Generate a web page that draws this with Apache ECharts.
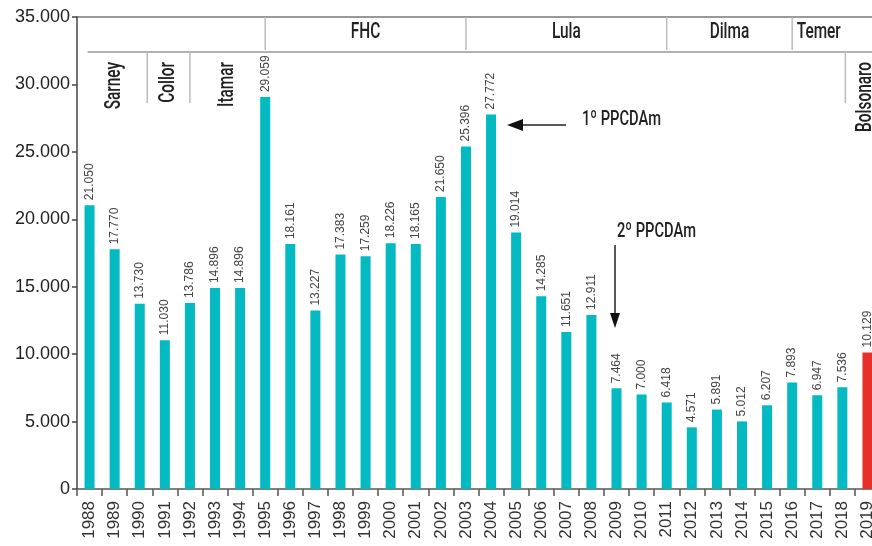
<!DOCTYPE html>
<html>
<head>
<meta charset="utf-8">
<script src="https://cdn.jsdelivr.net/npm/echarts@6/dist/echarts.min.js"></script>
<style>
  html, body { margin: 0; padding: 0; background: #fff; }
  #chart { width: 872px; height: 546px; }
</style>
</head>
<body>
<div id="chart"></div>
<script>
// desmatamento anual (km²)
const years = ['1988','1989','1990','1991','1992','1993','1994','1995','1996','1997','1998','1999','2000','2001','2002','2003',
  '2004','2005','2006','2007','2008','2009','2010','2011','2012','2013','2014','2015','2016','2017','2018','2019']
const values = [21050, 17770, 13730, 11030, 13786, 14896, 14896, 29059, 18161, 13227, 17383, 17259, 18226, 18165, 21650, 25396,
  27772, 19014, 14285, 11651, 12911, 7464, 7000, 6418, 4571, 5891, 5012, 6207, 7893, 6947, 7536, 10129]
const yTicks = [0, 5000, 10000, 15000, 20000, 25000, 30000, 35000]
const highlightYear = '2019'

// governos: faixa de cima (horizontal) e faixa de baixo (vertical)
const topGovs = ['FHC', 'Lula', 'Dilma', 'Temer']
const topStarts = ['1995', '2003', '2011', '2016']
const lowGovs = ['Sarney', 'Collor', 'Itamar', 'Bolsonaro']
const lowStarts = ['1988', '1990', '1992', '2018']

const TEAL = '#03b9c2'
const RED = '#e8302a'
const narrowFont = '500 22px Roboto, "Liberation Sans", sans-serif'
const narrow = 0.7 // fonte condensada simulada

const fmt = v => String(v).replace(/\B(?=(\d{3})+(?!\d))/g, '.')

const chart = echarts.init(document.getElementById('chart'))

chart.setOption({
  animation: false,
  backgroundColor: '#fff',
  grid: { left: 77, top: 17, width: 803, height: 472, outerBoundsMode: 'none', containLabel: false },
  xAxis: {
    type: 'category',
    data: years,
    axisLine: { lineStyle: { color: '#555', width: 1.5 } },
    axisTick: { show: true, length: 7, lineStyle: { color: '#555', width: 1.5 } },
    axisLabel: { rotate: 90, fontSize: 17, color: '#333', margin: 12, fontFamily: 'Liberation Sans, Arial, sans-serif' }
  },
  yAxis: {
    type: 'value',
    min: yTicks[0],
    max: yTicks[yTicks.length - 1],
    interval: yTicks[1] - yTicks[0],
    splitLine: { show: false },
    axisLine: { show: true, lineStyle: { color: '#444', width: 1.5 } },
    axisTick: { show: true, length: 5, lineStyle: { color: '#444', width: 1.5 } },
    axisLabel: { fontSize: 18, color: '#222', margin: 7, fontFamily: 'Liberation Sans, Arial, sans-serif', formatter: fmt }
  },
  series: [{
    type: 'bar',
    barWidth: 10,
    data: values.map((v, i) => ({
      value: v,
      itemStyle: { color: years[i] === highlightYear ? RED : TEAL }
    })),
    label: {
      show: true,
      position: 'top',
      rotate: 90,
      align: 'left',
      verticalAlign: 'middle',
      distance: 5,
      fontSize: 12,
      color: '#444',
      fontFamily: 'Liberation Sans, Arial, sans-serif',
      formatter: p => fmt(p.value)
    }
  }]
})

// anotações posicionadas a partir do eixo
const cx = y => chart.convertToPixel({ xAxisIndex: 0 }, y)
const band = cx(years[1]) - cx(years[0])
const right = 872
const g = []
const line = (x1, y1, x2, y2, color, w) => g.push({
  type: 'line', shape: { x1, y1, x2, y2 }, style: { stroke: color, lineWidth: w }, silent: true
})
const label = (text, x, y, rot, align, font) => g.push({
  type: 'text', x, y, rotation: rot, scaleX: narrow, silent: true,
  style: { text, font: font || narrowFont, fill: '#222', align, verticalAlign: 'middle' }
})

// linha superior e linha divisória
line(77, 17, right, 17, '#777', 1.5)
line(cx(years[0]) - 2, 52, right, 52, '#999', 1.5)

// faixa de cima
const topX = topStarts.map(cx)
topX.forEach((x, i) => {
  line(x, 17, x, 50, '#bbb', 1.5)
  const next = i < topX.length - 1 ? topX[i + 1] : cx(lowStarts[3]) + 3
  label(topGovs[i], (x + next) / 2, 32, 0, 'center')
})

// faixa de baixo (texto vertical)
const lowSep = [null, cx('1990') + 0.3 * band, cx('1992'), cx('2018') + 3]
const lowEnd = [lowSep[1], lowSep[2], topX[0], right + 14]
lowGovs.forEach((name, i) => {
  const x0 = i === 0 ? cx(years[0]) - 2 : lowSep[i]
  if (i > 0) line(x0, 52, x0, 103, '#bbb', 1.5)
  const tx = i === 0 ? 114 : (x0 + lowEnd[i]) / 2
  label(name, tx, 62, Math.PI / 2, 'right')
})

// 1º PPCDAm
line(566, 125, 518, 125, '#222', 1.5)
g.push({ type: 'polygon', shape: { points: [[507, 125], [523, 119], [523, 131]] }, style: { fill: '#111' }, silent: true })
label('1º PPCDAm', 582, 120, 0, 'left', '500 21px Roboto, sans-serif')

// 2º PPCDAm
line(615, 245, 615, 316, '#222', 1.5)
g.push({ type: 'polygon', shape: { points: [[615, 328], [610, 313], [620, 313]] }, style: { fill: '#111' }, silent: true })
label('2º PPCDAm', 617, 232, 0, 'left', '500 21px Roboto, sans-serif')

chart.setOption({ graphic: g })
</script>
</body>
</html>
